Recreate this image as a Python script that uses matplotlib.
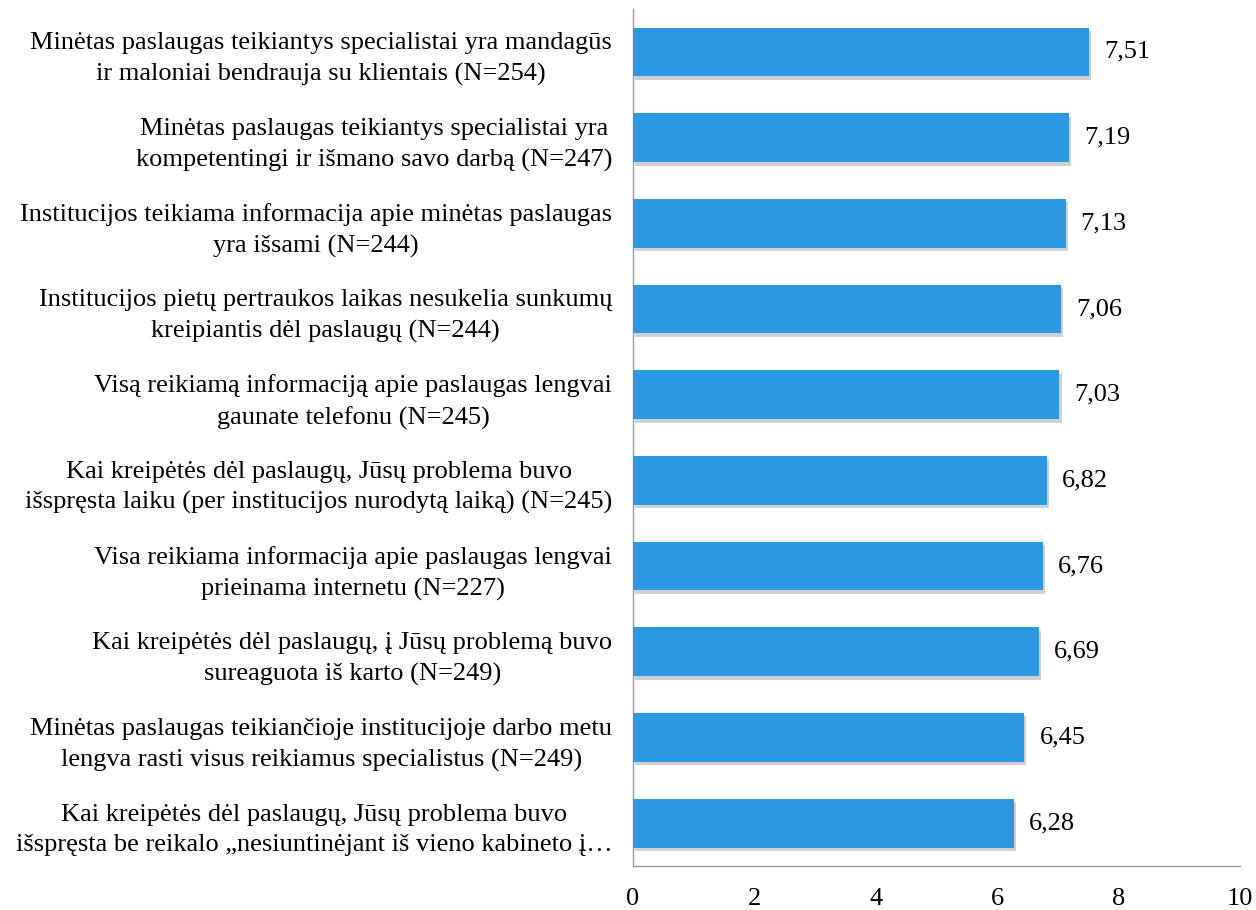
import matplotlib.pyplot as plt
import matplotlib.patheffects as pe

labels = [
    "Minėtas paslaugas teikiantys specialistai yra mandagūs\nir maloniai bendrauja su klientais (N=254)",
    "Minėtas paslaugas teikiantys specialistai yra\nkompetentingi ir išmano savo darbą (N=247)",
    "Institucijos teikiama informacija apie minėtas paslaugas\nyra išsami (N=244)",
    "Institucijos pietų pertraukos laikas nesukelia sunkumų\nkreipiantis dėl paslaugų (N=244)",
    "Visą reikiamą informaciją apie paslaugas lengvai\ngaunate telefonu (N=245)",
    "Kai kreipėtės dėl paslaugų, Jūsų problema buvo\nišspręsta laiku (per institucijos nurodytą laiką) (N=245)",
    "Visa reikiama informacija apie paslaugas lengvai\nprieinama internetu (N=227)",
    "Kai kreipėtės dėl paslaugų, į Jūsų problemą buvo\nsureaguota iš karto (N=249)",
    "Minėtas paslaugas teikiančioje institucijoje darbo metu\nlengva rasti visus reikiamus specialistus (N=249)",
    "Kai kreipėtės dėl paslaugų, Jūsų problema buvo\nišspręsta be reikalo „nesiuntinėjant iš vieno kabineto į…",
]
values = [7.51, 7.19, 7.13, 7.06, 7.03, 6.82, 6.76, 6.69, 6.45, 6.28]
xticks = [0, 2, 4, 6, 8, 10]

plt.rcParams["font.family"] = ["Liberation Serif", "DejaVu Serif"]
FS = 19

fig = plt.figure(figsize=(12.56, 9.10), dpi=100)
ax = fig.add_axes([0.504, 0.0484, 0.483, 0.9416])

pos = list(range(len(values)))[::-1]
bars = ax.barh(pos, values, height=0.57, color="#2A98E2", zorder=3)
for b in bars:
    b.set_path_effects([pe.SimplePatchShadow(offset=(1.5, -2.5), alpha=0.25, shadow_rgbFace="#444444"), pe.Normal()])

for p, v in zip(pos, values):
    ax.text(v + 0.25, p, f"{v:.2f}".replace(".", ","), va="center", ha="left", fontsize=FS)

ax.set_xlim(0, 10)
ax.set_ylim(-0.5, len(values) - 0.5)
ax.set_xticks(xticks)
ax.set_xticklabels([str(t) for t in xticks], fontsize=FS)
ax.set_yticks(pos)
ax.set_yticklabels(labels, fontsize=FS, multialignment="center", linespacing=1.5)
ax.tick_params(axis="both", length=0)
ax.tick_params(axis="y", pad=15)
ax.tick_params(axis="x", pad=16)

for s in ["top", "right"]:
    ax.spines[s].set_visible(False)
for s in ["left", "bottom"]:
    ax.spines[s].set_color("#999999")
    ax.spines[s].set_linewidth(1)

fig.savefig("out.png", dpi=100)
